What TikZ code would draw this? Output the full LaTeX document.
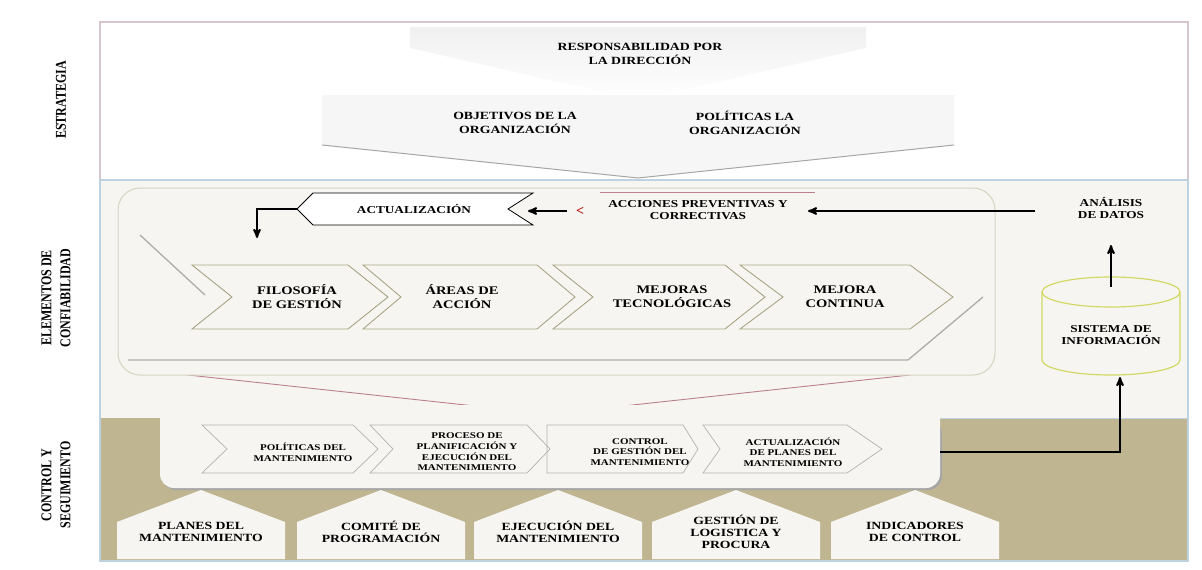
\documentclass[tikz,border=0pt]{standalone}
\usepackage{fontspec}
\setmainfont{Liberation Serif}
\newfontfamily\anchafont{Liberation Serif}[FakeStretch=1.25]
\newfontfamily\estrechafont{Liberation Serif}[FakeStretch=0.8]
\usetikzlibrary{arrows}

\definecolor{tierra}{RGB}{191,181,145}
\definecolor{hueso}{RGB}{246,245,241}
\definecolor{rosado}{RGB}{214,196,206}
\definecolor{celeste}{RGB}{190,210,224}
\definecolor{oliva}{RGB}{168,166,132}
\definecolor{borde}{RGB}{214,212,192}
\definecolor{vino}{RGB}{186,128,140}
\definecolor{limon}{RGB}{210,216,100}

\tikzset{
  etiqueta/.style={font=\estrechafont\bfseries\fontsize{15}{19}\selectfont, align=center, rotate=90, inner sep=0},
  texto/.style={font=\anchafont\bfseries\fontsize{11.6}{14}\selectfont, align=center, inner sep=0},
  textotop/.style={font=\anchafont\bfseries\fontsize{11}{13.5}\selectfont, align=center, inner sep=0},
  textomed/.style={font=\anchafont\bfseries\fontsize{10.6}{12.5}\selectfont, align=center, inner sep=0},
  textochico/.style={font=\anchafont\bfseries\fontsize{8.8}{10.6}\selectfont, align=center, inner sep=0},
  textocasa/.style={font=\anchafont\bfseries\fontsize{11}{12}\selectfont, align=center, inner sep=0},
  flecha/.style={black, line width=2pt, ->, >=stealth'},
  chevron/.style={draw=oliva, fill=hueso, line width=0.9pt, line join=miter},
  chevchico/.style={draw=gray!60, line width=0.7pt},
}

\begin{document}
\begin{tikzpicture}[x=1pt, y=-1pt]
\useasboundingbox (0,0) rectangle (1202,570);
% bandas
\fill[white] (100,22) rectangle (1188,180);
\fill[hueso] (100,180) rectangle (1188,418);
\fill[tierra] (100,418) rectangle (1188,561);
\draw[rosado, line width=1.2pt] (100,22) rectangle (1188,180);
\draw[celeste, line width=1.2pt] (100,180) rectangle (1188,561);
\draw[celeste, line width=1pt] (940,418) -- (1188,418);

\node[etiqueta] (estrategia) at (61,100) {ESTRATEGIA};
\node[etiqueta] (elementos) at (56,298) {ELEMENTOS DE\\CONFIABILIDAD};
\node[etiqueta] (control) at (56,485) {CONTROL Y\\SEGUIMIENTO};

% estrategia
\shade[top color=gray!12, bottom color=white] (410,27) -- (866,27) -- (866,48) -- (638,100) -- (410,48) -- cycle;
\fill[gray!7] (322,95) -- (954,95) -- (954,145) -- (638,178) -- (322,145) -- cycle;
\draw[gray!70, line width=1pt] (322,145) -- (638,178) -- (954,145);
\node[textotop] (responsabilidad) at (640,54) {RESPONSABILIDAD POR\\LA DIRECCIÓN};
\node[textotop] (objetivos) at (515,123) {OBJETIVOS DE LA\\ORGANIZACIÓN};
\node[textotop] (politicas) at (745,123) {POLÍTICAS LA\\ORGANIZACIÓN};

% elementos de confiabilidad
\draw[vino, line width=0.9pt] (188,375) -- (549,414) -- (910,375);
\filldraw[fill=hueso, draw=borde, line width=1pt, rounded corners=22pt] (118,188) rectangle (995,375);
\draw[gray!65, line width=1.3pt] (140,235) -- (205,295);
\draw[gray!65, line width=1.3pt] (128,360) -- (908,360) -- (983,297);

\draw[black, fill=white, line width=0.8pt] (297,209) -- (313,193) -- (533,193) -- (508,209) -- (533,225) -- (313,225) -- cycle;
\node[textomed] (actualizacion) at (414,209) {ACTUALIZACIÓN};
\coordinate (actIzq) at (297,209);
\coordinate (bajada) at (257,238);
\coordinate (actDer) at (528,211);
\coordinate (flechaIni) at (567,211);
\draw[flecha] (actIzq) -| (bajada);
\draw[flecha] (flechaIni) -- (actDer);
\node[text=red!70!black, font=\bfseries\fontsize{14}{14}\selectfont, inner sep=0] (menor) at (580,211) {<};

\draw[vino, line width=1pt] (600,192) -- (815,192);
\node[textomed] (acciones) at (698,210) {ACCIONES PREVENTIVAS Y\\CORRECTIVAS};
\node[textomed] (analisis) at (1111,208) {ANÁLISIS\\DE DATOS};
\coordinate (salidaAna) at (1035,211);
\coordinate (llegadaAcc) at (808,211);
\draw[flecha] (salidaAna) -- (llegadaAcc);

\foreach \nm/\xl/\xr/\dd/\xt/\txt in {filosofia/192/348/40/297/{FILOSOFÍA\\DE GESTIÓN},
    areas/363/537/38/462/{ÁREAS DE\\ACCIÓN},
    mejoras/553/725/40/672/{MEJORAS\\TECNOLÓGICAS},
    continua/740/910/43/845/{MEJORA\\CONTINUA}} {
  \draw[chevron] (\xl,265) -- (\xr,265) -- (\xr+\dd,297) -- (\xr,329) -- (\xl,329) -- (\xl+\dd,297) -- cycle;
  \node[texto] (\nm) at (\xt,297) {\txt};
}

% sistema de informacion
\draw[limon, line width=1.2pt] (1042,292) -- (1042,360) arc[start angle=180, end angle=360, x radius=69pt, y radius=15pt] -- (1180,292);
\draw[limon, line width=1.2pt] (1111,292) ellipse [x radius=69pt, y radius=15pt];
\node[textomed] (sistema) at (1111,335) {SISTEMA DE\\INFORMACIÓN};
\coordinate (cilTope) at (1111,287);
\coordinate (anaBase) at (1111,245);
\draw[flecha] (cilTope) -- (anaBase);

% control y seguimiento
\fill[black!35, rounded corners=14pt] (162,420) rectangle (942,490);
\fill[hueso, rounded corners=14pt] (160,405) rectangle (940,488);
\foreach \nm/\xl/\xr/\dn/\dt/\xt/\txt in {polman/202/353/25/25/303/{POLÍTICAS DEL\\MANTENIMIENTO},
    proceso/370/527/23/23/467/{PROCESO DE\\PLANIFICACIÓN Y\\EJECUCIÓN DEL\\MANTENIMIENTO},
    congest/547/683/0/15/640/{CONTROL\\DE GESTIÓN DEL\\MANTENIMIENTO},
    actplan/703/847/17/35/793/{ACTUALIZACIÓN\\DE PLANES DEL\\MANTENIMIENTO}} {
  \draw[chevchico] (\xl,425) -- (\xr,425) -- (\xr+\dt,449) -- (\xr,473) -- (\xl,473) -- (\xl+\dn,449) -- cycle;
  \node[textochico] (\nm) at (\xt,452) {\txt};
}
\coordinate (panelDer) at (940,452);
\coordinate (cilBase) at (1120,377);
\draw[flecha] (panelDer) -| (cilBase);

\foreach \nm/\xl/\txt in {planes/117/{PLANES DEL\\MANTENIMIENTO},
    comite/297/{COMITÉ DE\\PROGRAMACIÓN},
    ejecucion/474/{EJECUCIÓN DEL\\MANTENIMIENTO},
    gestion/652/{GESTIÓN DE\\LOGISTICA Y\\PROCURA},
    indicadores/831/{INDICADORES\\DE CONTROL}} {
  \fill[hueso] (\xl,559) -- (\xl,522) -- (\xl+84,490) -- (\xl+168,522) -- (\xl+168,559) -- cycle;
  \node[textocasa] (\nm) at (\xl+84,532) {\txt};
}
\end{tikzpicture}
\end{document}
